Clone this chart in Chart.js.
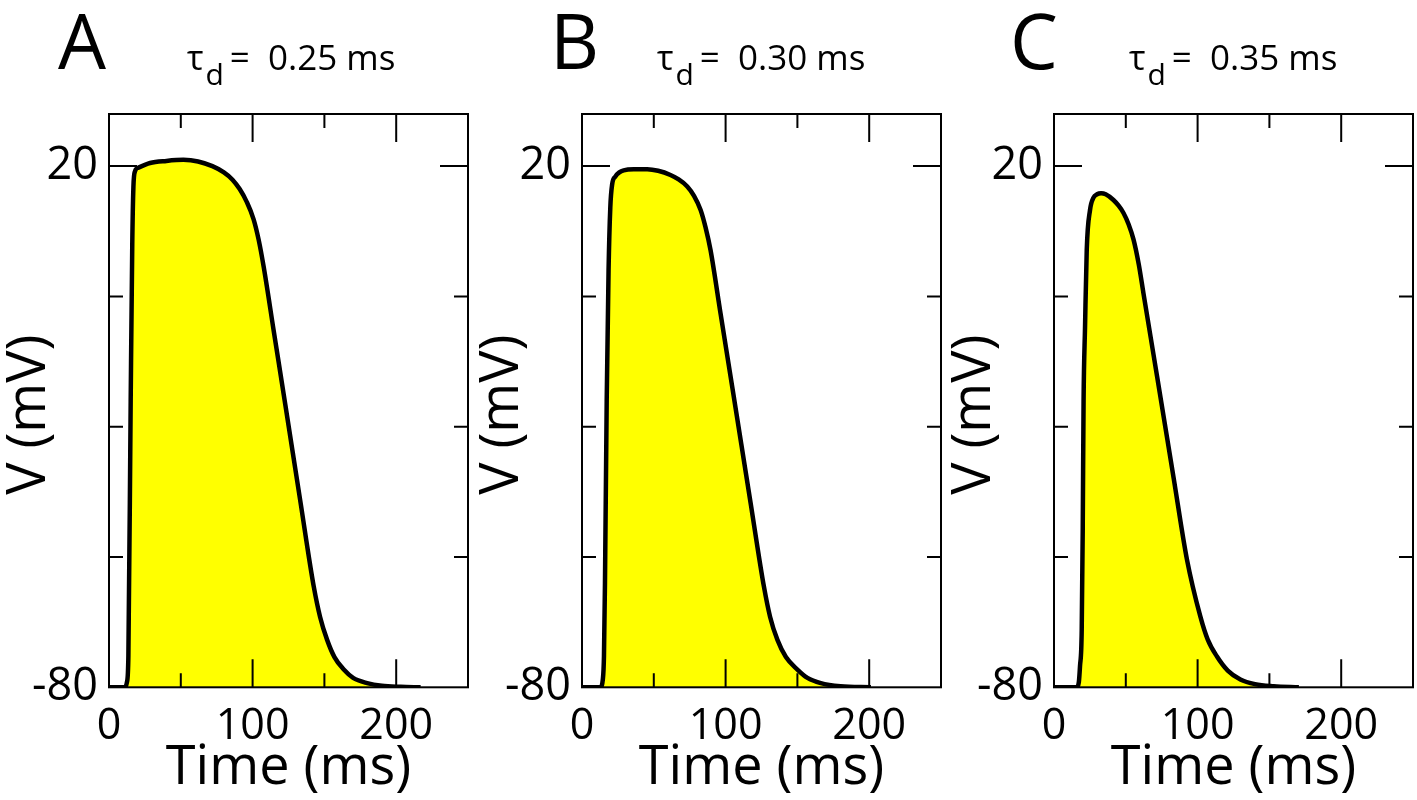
<!DOCTYPE html>
<html>
<head>
<meta charset="utf-8">
<script src="https://cdn.jsdelivr.net/npm/chart.js@4.4.1/dist/chart.umd.min.js"></script>
<style>
  html, body { margin: 0; padding: 0; background: #fff; }
  body { width: 1417px; height: 800px; position: relative; overflow: hidden; font-family: "Open Sans", sans-serif; color: #000; }
  .panel { position: absolute; top: 0; width: 480px; height: 800px; }
  .letter { position: absolute; top: 2px; font-size: 76px; line-height: 76px; }
  .tau { position: absolute; top: 39px; font-size: 35px; line-height: 35px; white-space: nowrap; }
  .tau .sub { position: relative; top: 15px; font-size: 30px; margin-left: 2px; }
</style>
</head>
<body>
<div class="panel" style="left:2px"><canvas id="chartA" width="480" height="800"></canvas></div>
<div class="panel" style="left:474.5px"><canvas id="chartB" width="480" height="800"></canvas></div>
<div class="panel" style="left:947px"><canvas id="chartC" width="480" height="800"></canvas></div>

<div class="letter" style="left:58px">A</div>
<div class="letter" style="left:550px">B</div>
<div class="letter" style="left:1010px">C</div>
<div class="tau" style="left:187px">τ<span class="sub">d</span>&thinsp;=&nbsp;&nbsp;0.25 ms</div>
<div class="tau" style="left:657px">τ<span class="sub">d</span>&thinsp;=&nbsp;&nbsp;0.30 ms</div>
<div class="tau" style="left:1129px">τ<span class="sub">d</span>&thinsp;=&nbsp;&nbsp;0.35 ms</div>

<script>
// ==== Axis ticks ====
const X_TICKS = [0, 50, 100, 150, 200, 250];
const X_LABELLED = [0, 100, 200];
const Y_TICKS = [-80, -55, -30, -5, 20];
const Y_LABELLED = [-80, 20];

// ==== Traces ====
// A: tau_d = 0.25 ms
const timeA = [0, 11, 12.5, 13.5, 15.1, 16.2, 17, 18.1, 20.4, 28.6, 40, 51.8, 62, 72, 80, 86, 91, 96, 100.7, 104.2, 107.7, 114.7, 122.8, 133.3, 142.6, 147, 151.9, 157, 163.5, 170, 179.8, 190, 203.1, 217];
const voltA = [-80, -80, -79, -74, -25, 5, 16, 19, 19.7, 20.6, 21.0, 21.2, 20.9, 20.0, 18.8, 17.4, 15.6, 13.1, 9.8, 5.9, 0.7, -11.6, -25.8, -44.4, -60.7, -66.5, -70.9, -74.2, -76.6, -78.2, -79.2, -79.7, -79.9, -80];

// B: tau_d = 0.30 ms
const timeB = [0, 12.8, 14.5, 15.3, 16, 17.2, 18.5, 19.7, 21, 23.2, 26, 29, 36, 45.4, 53, 61.6, 67, 73.3, 78, 82.6, 86, 89.5, 96.5, 104.7, 117.4, 126.7, 131, 136.1, 142, 150, 157, 166.3, 180, 201.2];
const voltB = [-80, -80, -78.5, -74, -60, -25, 0, 12, 16.5, 18, 18.8, 19.2, 19.4, 19.4, 19.1, 18.3, 17.5, 16.1, 14.3, 11.6, 8.3, 3.9, -8.3, -22.5, -44.6, -60.7, -66.5, -70.9, -74.2, -76.6, -78.2, -79.2, -79.8, -80];

// C: tau_d = 0.35 ms
const timeC = [0, 15.8, 17.3, 18.1, 19.3, 20, 20.6, 21.6, 22.8, 25.1, 27.4, 30, 32.8, 36, 41.4, 45, 48.4, 52, 55.4, 59, 62.3, 71.7, 83.3, 92.6, 101.9, 107, 113.5, 121, 129.8, 140, 153, 170.5];
const voltC = [-80, -80, -79, -76, -69, -50, -25, -11, 3.9, 11.6, 13.9, 14.6, 14.8, 14.6, 13.5, 12.4, 11, 8.8, 5.9, 1.2, -4.4, -20.2, -39.8, -55.5, -66.4, -70.8, -74.1, -76.8, -78.5, -79.4, -79.8, -80];

const FONT = "'Open Sans', 'Noto Sans', sans-serif";

// frame plus inward ticks on all four sides
const frameTicks = {
  id: "frameTicks",
  afterDatasetsDraw(chart) {
    const { ctx, chartArea: a, scales: { x, y } } = chart;
    ctx.save();
    ctx.strokeStyle = "#000";
    ctx.lineWidth = 2;
    ctx.beginPath();
    X_TICKS.forEach(v => {
      const px = x.getPixelForValue(v);
      if (px <= a.left + 1 || px >= a.right - 1) return;
      const len = X_LABELLED.includes(v) ? 28 : 14;
      ctx.moveTo(px, a.top); ctx.lineTo(px, a.top + len);
      ctx.moveTo(px, a.bottom); ctx.lineTo(px, a.bottom - len);
    });
    Y_TICKS.forEach(v => {
      const py = y.getPixelForValue(v);
      if (py <= a.top + 1 || py >= a.bottom - 1) return;
      const len = Y_LABELLED.includes(v) ? 28 : 14;
      ctx.moveTo(a.left, py); ctx.lineTo(a.left + len, py);
      ctx.moveTo(a.right, py); ctx.lineTo(a.right - len, py);
    });
    ctx.stroke();
    ctx.strokeRect(a.left, a.top, a.right - a.left, a.bottom - a.top);
    ctx.restore();
  }
};

function makePanel(id, times, volts) {
  const pts = times.map((t, i) => ({ x: t, y: volts[i] }));
  new Chart(document.getElementById(id), {
    type: "line",
    data: {
      datasets: [{
        data: pts,
        borderColor: "#000",
        borderWidth: 4.5,
        backgroundColor: "#ffff00",
        fill: "start",
        pointRadius: 0,
        cubicInterpolationMode: "monotone"
      }]
    },
    options: {
      responsive: false,
      animation: false,
      events: [],
      // right margin comes from the x tick padding (14px)
      layout: { padding: { top: 114, right: 0, bottom: 0, left: 0 } },
      plugins: { legend: { display: false }, tooltip: { enabled: false } },
      scales: {
        x: {
          type: "linear",
          min: 0, max: 250,
          grid: { display: false, drawTicks: false },
          border: { display: false },
          afterBuildTicks: s => { s.ticks = X_TICKS.map(v => ({ value: v })); },
          afterFit: s => { s.height = 112.7; },
          ticks: {
            autoSkip: false, maxRotation: 0, padding: 14,
            color: "#000", font: { family: FONT, size: 43 },
            callback: v => X_LABELLED.includes(v) ? String(v) : ""
          },
          title: {
            display: true, text: "Time (ms)", color: "#000",
            font: { family: FONT, size: 54, lineHeight: 1 },
            padding: { top: 0, bottom: 4 }
          }
        },
        y: {
          min: -80, max: 30,
          grid: { display: false, drawTicks: false },
          border: { display: false },
          afterBuildTicks: s => { s.ticks = Y_TICKS.map(v => ({ value: v })); },
          afterFit: s => { s.width = 107; },
          ticks: {
            autoSkip: false, padding: 11,
            color: "#000", font: { family: FONT, size: 45 },
            callback: v => Y_LABELLED.includes(v) ? String(v) : ""
          },
          title: {
            display: true, text: "V (mV)  ", color: "#000",
            font: { family: FONT, size: 54, lineHeight: 1 },
            padding: { top: 1, bottom: 0 }
          }
        }
      }
    },
    plugins: [frameTicks]
  });
}

makePanel("chartA", timeA, voltA);
makePanel("chartB", timeB, voltB);
makePanel("chartC", timeC, voltC);
</script>
</body>
</html>
